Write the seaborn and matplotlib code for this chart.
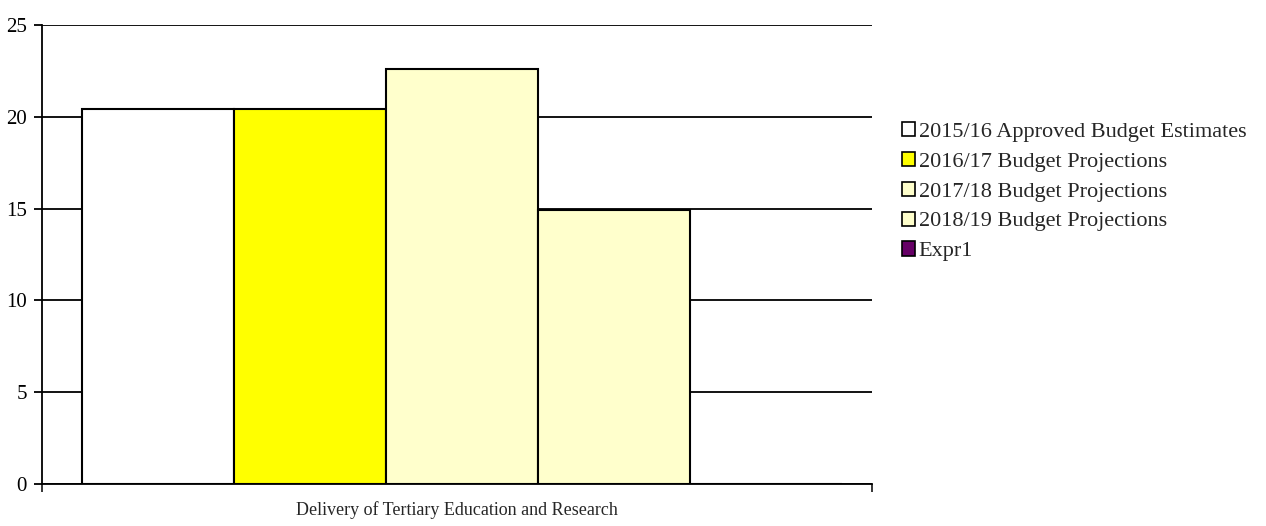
import matplotlib
matplotlib.use("Agg")
import matplotlib.pyplot as plt
import seaborn as sns
import pandas as pd
from matplotlib.patches import Patch

categories = ["Delivery of Tertiary Education and Research"]
series = ["2015/16 Approved Budget Estimates", "2016/17 Budget Projections",
          "2017/18 Budget Projections", "2018/19 Budget Projections", "Expr1"]
values = [20.42, 20.42, 22.6, 14.9, 0.0]
colors = ["#FFFFFF", "#FFFF00", "#FFFFCC", "#FFFFCC", "#660066"]
yticks = [0, 5, 10, 15, 20, 25]

df = pd.DataFrame({"category": categories * len(series), "series": series, "value": values})

sns.set_theme(style="white")
plt.rcParams["font.family"] = ["Liberation Serif", "DejaVu Serif"]

fig = plt.figure(figsize=(12.66, 5.26), dpi=100)
ax = fig.add_axes([42/1266, 1 - 484/526, (872-42)/1266, (484-25)/526])

sns.barplot(data=df, x="category", y="value", hue="series", hue_order=series,
            palette=colors, width=0.916, edgecolor="black", linewidth=1.5,
            saturation=1, legend=False, ax=ax, zorder=3)

x0, x1 = -0.506, 0.494
ax.set_xlim(x0, x1)
ax.set_ylim(0, 25)
ax.set_yticks(yticks)
ax.set_yticklabels([str(t) for t in yticks], fontsize=15)
ax.yaxis.grid(True, color="black", linewidth=1.3, zorder=0)
ax.set_axisbelow(True)
ax.set_xlabel("")
ax.set_ylabel("")
ax.tick_params(axis="y", direction="out", length=6, width=1.3, left=True, pad=5, colors="black")
ax.set_xticks([x0, x1])
ax.set_xticklabels([])
ax.tick_params(axis="x", direction="out", length=6, width=1.3, bottom=True)
ax.text(0.5, -0.038, categories[0], transform=ax.transAxes,
        ha="center", va="top", fontsize=13)
for s in ["top", "right"]:
    ax.spines[s].set_visible(False)
for s in ["left", "bottom"]:
    ax.spines[s].set_color("black")
    ax.spines[s].set_linewidth(1.3)

handles = [Patch(facecolor=c, edgecolor="black", linewidth=1.2) for c in colors]
fig.legend(handles, series, loc="upper left", bbox_to_anchor=(893/1266, 1 - 113/526),
           frameon=False, fontsize=16, handlelength=0.6, handleheight=0.6,
           handletextpad=0.15, labelspacing=0.45, borderaxespad=0)

fig.savefig("out.png", dpi=100)
